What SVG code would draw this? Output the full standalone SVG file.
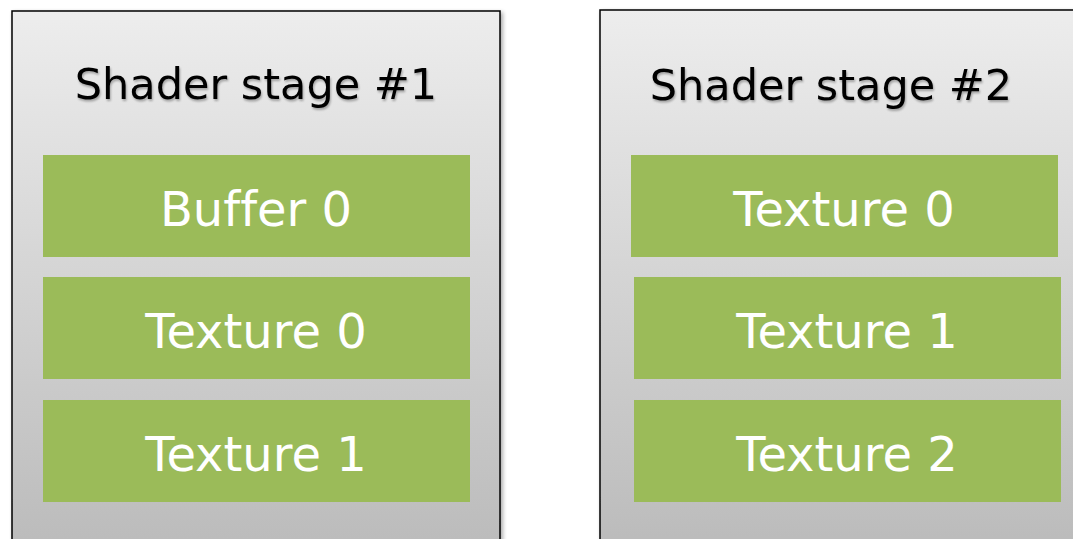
<svg xmlns="http://www.w3.org/2000/svg" width="1073" height="539" viewBox="0 0 1073 539">
  <defs>
    <linearGradient id="panelGrad" x1="0" y1="0" x2="0" y2="1">
      <stop offset="0" stop-color="#ededed"/>
      <stop offset="1" stop-color="#b9b9b9"/>
    </linearGradient>
    <filter id="shadow" x="-5%" y="-5%" width="115%" height="115%">
      <feGaussianBlur in="SourceAlpha" stdDeviation="2"/>
      <feOffset dx="2" dy="2" result="b"/>
      <feComponentTransfer><feFuncA type="linear" slope="0.35"/></feComponentTransfer>
      <feMerge><feMergeNode/><feMergeNode in="SourceGraphic"/></feMerge>
    </filter>
    <filter id="tshadow" x="-5%" y="-20%" width="110%" height="140%">
      <feGaussianBlur in="SourceAlpha" stdDeviation="1"/>
      <feOffset dx="1" dy="1.5" result="b"/>
      <feComponentTransfer><feFuncA type="linear" slope="0.3"/></feComponentTransfer>
      <feMerge><feMergeNode/><feMergeNode in="SourceGraphic"/></feMerge>
    </filter>
  </defs>
  <style>
    .panel { fill: url(#panelGrad); stroke: #000; stroke-width: 1.5; }
    .title { font-family: "DejaVu Sans", Verdana, sans-serif; font-size: 43px; fill: #000; text-anchor: middle; font-variant-ligatures: none; }
    .slot { fill: #9bbb59; }
    .slotText { font-family: "DejaVu Sans", Verdana, sans-serif; font-size: 48px; fill: #fff; text-anchor: middle; font-variant-ligatures: none; }
  </style>
  <rect width="1073" height="539" fill="#fff"/>

  <g id="stage1">
    <rect class="panel" x="12" y="11" width="488" height="560" filter="url(#shadow)"/>
    <text class="title" x="256" y="99" filter="url(#tshadow)">Shader stage #1</text>
    <g id="stage1-buffer0">
      <rect class="slot" x="43" y="155" width="427" height="102"/>
      <text class="slotText" x="256" y="226">Buffer 0</text>
    </g>
    <g id="stage1-texture0">
      <rect class="slot" x="43" y="277" width="427" height="102"/>
      <text class="slotText" x="256" y="348">Texture 0</text>
    </g>
    <g id="stage1-texture1">
      <rect class="slot" x="43" y="400" width="427" height="102"/>
      <text class="slotText" x="256" y="471">Texture 1</text>
    </g>
  </g>

  <g id="stage2">
    <rect class="panel" x="600" y="10" width="500" height="560" filter="url(#shadow)"/>
    <text class="title" x="831" y="100" filter="url(#tshadow)">Shader stage #2</text>
    <g id="stage2-texture0">
      <rect class="slot" x="631" y="155" width="427" height="102"/>
      <text class="slotText" x="844" y="226">Texture 0</text>
    </g>
    <g id="stage2-texture1">
      <rect class="slot" x="634" y="277" width="427" height="102"/>
      <text class="slotText" x="847" y="348">Texture 1</text>
    </g>
    <g id="stage2-texture2">
      <rect class="slot" x="634" y="400" width="427" height="102"/>
      <text class="slotText" x="847" y="471">Texture 2</text>
    </g>
  </g>

  <g id="connectors"/>
</svg>
